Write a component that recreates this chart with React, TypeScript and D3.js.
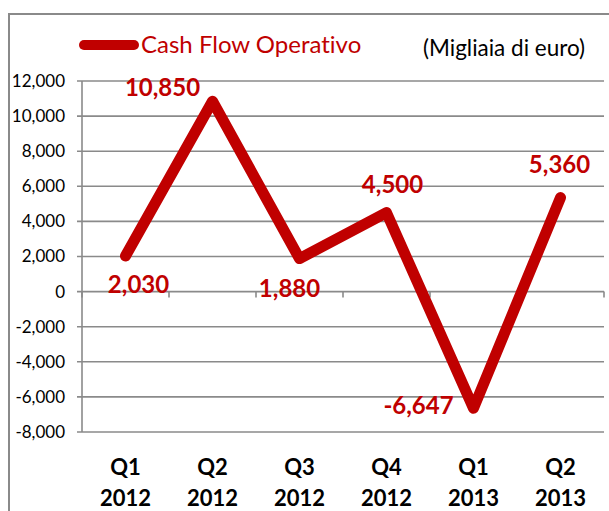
import React from 'react'
import * as d3 from 'd3'

const quarters = ['Q1', 'Q2', 'Q3', 'Q4', 'Q1', 'Q2']
const years = ['2012', '2012', '2012', '2012', '2013', '2013']
const cashFlow = [2030, 10850, 1880, 4500, -6647, 5360]
const yTicks = [12000, 10000, 8000, 6000, 4000, 2000, 0, -2000, -4000, -6000, -8000]

const seriesName = 'Cash Flow Operativo'
const unitNote = '(Migliaia di euro)'

const RED = '#C00000'
const GRID = '#8a8a8a'
const FONT = 'Lato, "Open Sans", sans-serif'

// where Excel put each data label, relative to its point
const labelOffset: [number, number][] = [
  [13, 37],
  [-50, -5],
  [-10, 38],
  [6, -20],
  [-55, 6],
  [-1, -25],
]

const App = () => {
  const width = 609
  const height = 511
  const left = 82
  const right = 604
  const top = 81
  const bottom = 432

  const x = d3.scaleBand<number>().domain(d3.range(cashFlow.length)).range([left, right])
  const y = d3.scaleLinear().domain([-8000, 12000]).range([bottom, top])
  // excel shows a plain hyphen, not d3's unicode minus
  const fmt = (v: number) => d3.format(',')(v).replace('\u2212', '-')

  const line = d3
    .line<number>()
    .x((_, i) => x(i)! + x.bandwidth() / 2)
    .y(d => y(d))

  const boundaries = d3.range(cashFlow.length + 1).map(i => left + i * x.step())

  return (
    <svg
      width={width}
      height={height}
      style={{ position: 'absolute', left: 0, top: 0, background: '#fff', fontVariantLigatures: 'none' }}
      fontFamily={FONT}
    >
      <rect x={9} y={14} width={640} height={540} fill="none" stroke={GRID} strokeWidth={2} />

      {/* grid */}
      {yTicks.map(t => (
        <g key={t}>
          <line x1={left - 5} x2={right} y1={y(t)} y2={y(t)} stroke={GRID} strokeWidth={1.6} />
          <text x={65} y={y(t)} dy="0.35em" textAnchor="end" fontSize={17} fill="#000">
            {fmt(t)}
          </text>
        </g>
      ))}
      <line x1={left} x2={left} y1={top} y2={bottom} stroke={GRID} strokeWidth={1.6} />
      {boundaries.map((bx, i) => (
        <line key={i} x1={bx} x2={bx} y1={y(0)} y2={y(0) + 6} stroke={GRID} strokeWidth={1.6} />
      ))}

      {/* category labels */}
      {quarters.map((q, i) => (
        <text
          key={i}
          x={x(i)! + x.bandwidth() / 2}
          textAnchor="middle"
          fontSize={22}
          fontWeight="bold"
          fill="#000"
        >
          <tspan x={x(i)! + x.bandwidth() / 2} y={475}>
            {q}
          </tspan>
          <tspan x={x(i)! + x.bandwidth() / 2} y={506}>
            {years[i]}
          </tspan>
        </text>
      ))}

      <path
        d={line(cashFlow) ?? ''}
        fill="none"
        stroke={RED}
        strokeWidth={11}
        strokeLinejoin="round"
        strokeLinecap="round"
      />

      {cashFlow.map((v, i) => (
        <text
          key={i}
          x={x(i)! + x.bandwidth() / 2 + labelOffset[i][0]}
          y={y(v) + labelOffset[i][1]}
          textAnchor="middle"
          fontSize={24}
          fontWeight="bold"
          fill={RED}
        >
          {fmt(v)}
        </text>
      ))}

      {/* legend */}
      <line x1={84} x2={134} y1={45} y2={45} stroke={RED} strokeWidth={10} strokeLinecap="round" />
      <text x={141} y={53} fontSize={24} fill={RED}>
        {seriesName}
      </text>
      <text x={423} y={56} fontSize={22.5} fill="#000">
        {unitNote}
      </text>
    </svg>
  )
}

export default App
